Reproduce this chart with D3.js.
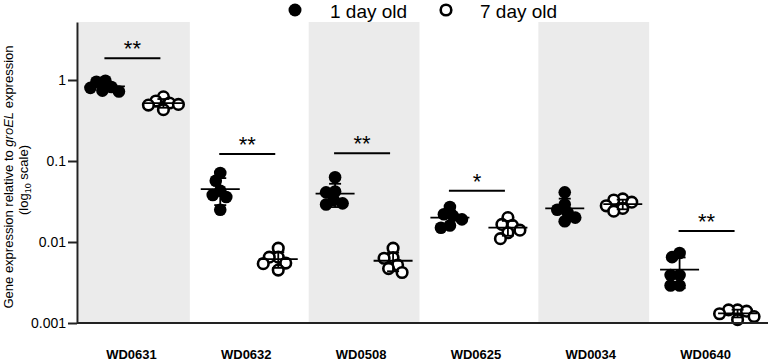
<!DOCTYPE html>
<html>
<head>
<meta charset="utf-8">
<script src="https://cdn.jsdelivr.net/npm/d3@7"></script>
<style>
  html, body { margin: 0; padding: 0; background: #fff; }
  svg { display: block; font-family: "Liberation Sans", Arial, sans-serif; }
</style>
</head>
<body>
<svg id="chart" width="768" height="363"></svg>
<script>
// ---------- data ----------
const categories = ["WD0631", "WD0632", "WD0508", "WD0625", "WD0034", "WD0640"];
const seriesNames = ["1 day old", "7 day old"];
const day1Values = [
  [0.98, 0.95, 0.82, 0.80, 0.74, 0.72],
  [0.071, 0.057, 0.043, 0.038, 0.036, 0.025],
  [0.063, 0.042, 0.041, 0.033, 0.030, 0.029],
  [0.027, 0.022, 0.021, 0.019, 0.016, 0.015],
  [0.041, 0.029, 0.025, 0.023, 0.020, 0.018],
  [0.0073, 0.0065, 0.0039, 0.0039, 0.0029, 0.0029]
];
const day7Values = [
  [0.62, 0.55, 0.52, 0.50, 0.49, 0.43],
  [0.0084, 0.0065, 0.0065, 0.0055, 0.0054, 0.0045],
  [0.0084, 0.0064, 0.0063, 0.0052, 0.0047, 0.0042],
  [0.020, 0.0165, 0.016, 0.014, 0.013, 0.011],
  [0.034, 0.033, 0.031, 0.028, 0.026, 0.024],
  [0.00145, 0.00145, 0.0014, 0.0013, 0.0012, 0.0011]
];
const sigLabels = ["**", "**", "**", "*", "", "**"];
const sigValues = [1.85, 0.122, 0.125, 0.043, null, 0.0137];
const yTickValues = [1, 0.1, 0.01, 0.001];
const yTickLabels = ["1", "0.1", "0.01", "0.001"];

// ---------- layout ----------
const W = 768, H = 363;
const mLeft = 77, mRight = 766, mTop = 22, mBottom = 323;
const svg = d3.select("#chart");

const x = d3.scaleBand().domain(categories).range([mLeft, mRight]).padding(0);
const step = x.step();
const cx = c => x(c) + step / 2;
const xs = d3.scalePoint().domain(seriesNames).range([-29, 29]);
const y = d3.scaleLog().domain([0.001, Math.pow(10, 0.716)]).range([mBottom, mTop]);

// shaded bands
const bandW = step * 0.965;
svg.append("g").selectAll("rect")
  .data(categories.filter((d, i) => i % 2 === 0))
  .join("rect")
  .attr("x", d => Math.max(mLeft, cx(d) - bandW / 2))
  .attr("width", d => cx(d) + bandW / 2 - Math.max(mLeft, cx(d) - bandW / 2))
  .attr("y", mTop)
  .attr("height", mBottom - mTop)
  .attr("fill", "#ebebeb");

// beeswarm offsets
function swarm(vals, minD) {
  const pts = vals.map(v => ({ v, py: y(v) })).sort((a, b) => a.py - b.py);
  const placed = [];
  pts.forEach(p => {
    const cands = [0];
    for (let k = 1; k < 20; k++) { cands.push(-k * 1.5); cands.push(k * 1.5); }
    let chosen = 0;
    for (const c of cands) {
      let ok = true;
      for (const q of placed) {
        const dx = c - q.dx, dy = p.py - q.py;
        if (Math.sqrt(dx * dx + dy * dy) < minD) { ok = false; break; }
      }
      if (ok) { chosen = c; break; }
    }
    p.dx = chosen;
    placed.push(p);
  });
  return pts;
}

const groups = [];
categories.forEach((c, i) => {
  [day1Values[i], day7Values[i]].forEach((vals, s) => {
    const mean = d3.mean(vals), sd = d3.deviation(vals);
    groups.push({ c, s, vals, mean, sd, x0: cx(c) + xs(seriesNames[s]) });
  });
});

// points
const gPts = svg.append("g");
groups.forEach(g => {
  const pts = swarm(g.vals, 8.5);
  gPts.append("g").selectAll("circle").data(pts).join("circle")
    .attr("cx", p => g.x0 + p.dx)
    .attr("cy", p => p.py)
    .attr("r", g.s === 0 ? 6.3 : 5.3)
    .attr("fill", g.s === 0 ? "#000" : "#fff")
    .attr("stroke", "#000")
    .attr("stroke-width", g.s === 0 ? 0 : 2.6);
});

// mean and SD
const gErr = svg.append("g").attr("stroke", "#000").attr("stroke-width", 1.8);
groups.forEach(g => {
  const ym = y(g.mean), yt = y(g.mean + g.sd), yb = y(Math.max(g.mean - g.sd, 1e-4));
  gErr.append("line").attr("x1", g.x0 - 19.5).attr("x2", g.x0 + 19.5).attr("y1", ym).attr("y2", ym);
  gErr.append("line").attr("x1", g.x0).attr("x2", g.x0).attr("y1", yt).attr("y2", yb);
  gErr.append("line").attr("x1", g.x0 - 6).attr("x2", g.x0 + 6).attr("y1", yt).attr("y2", yt);
  gErr.append("line").attr("x1", g.x0 - 6).attr("x2", g.x0 + 6).attr("y1", yb).attr("y2", yb);
});

// significance
const gSig = svg.append("g");
categories.forEach((c, i) => {
  if (sigValues[i] == null) return;
  const yy = y(sigValues[i]);
  const a = cx(c) + xs(seriesNames[0]) - 1, b = cx(c) + xs(seriesNames[1]) - 3;
  gSig.append("line").attr("x1", a).attr("x2", b).attr("y1", yy).attr("y2", yy)
    .attr("stroke", "#000").attr("stroke-width", 2);
  gSig.append("text").attr("x", (a + b) / 2).attr("y", yy - 2)
    .attr("text-anchor", "middle").attr("font-size", 22).attr("fill", "#000")
    .text(sigLabels[i]);
});

// y axis
const yAxis = d3.axisLeft(y).tickValues(yTickValues)
  .tickFormat((d, i) => yTickLabels[i]).tickSize(9).tickSizeOuter(0);
const gy = svg.append("g").attr("transform", `translate(${mLeft},0)`).call(yAxis);
gy.select(".domain").attr("stroke", "#222").attr("stroke-width", 2);
gy.selectAll(".tick line").attr("stroke", "#222").attr("stroke-width", 2);
gy.selectAll(".tick text").attr("font-size", 14).attr("fill", "#000")
  .attr("font-family", "Liberation Sans, Arial, sans-serif").attr("x", -11);

// x axis
const xAxis = d3.axisBottom(x).tickSize(0).tickSizeOuter(0);
const gx = svg.append("g").attr("transform", `translate(0,${mBottom})`).call(xAxis);
gx.select(".domain").attr("stroke", "#222").attr("stroke-width", 2)
  .attr("d", `M${mLeft},0H${W}`);
gx.selectAll(".tick text").attr("font-size", 13).attr("font-weight", "bold")
  .attr("fill", "#000").attr("font-family", "Liberation Sans, Arial, sans-serif")
  .attr("y", 27).attr("dx", -3);

// y title
const t = svg.append("text").attr("transform", "translate(13,177) rotate(-90)")
  .attr("text-anchor", "middle").attr("font-size", 13).attr("fill", "#000");
t.append("tspan").text("Gene expression relative to ");
t.append("tspan").attr("font-style", "italic").text("groEL");
t.append("tspan").text(" expression");
const t2 = svg.append("text").attr("transform", "translate(28,180) rotate(-90)")
  .attr("text-anchor", "middle").attr("font-size", 13).attr("fill", "#000");
t2.append("tspan").text("(log");
t2.append("tspan").attr("font-size", 9).attr("dy", 3).text("10");
t2.append("tspan").attr("dy", -3).text(" scale)");

// legend
const lg = svg.append("g");
lg.append("circle").attr("cx", 295).attr("cy", 10).attr("r", 6.5).attr("fill", "#000");
lg.append("text").attr("x", 330).attr("y", 17.5).attr("font-size", 19).text(seriesNames[0]);
lg.append("circle").attr("cx", 446).attr("cy", 10).attr("r", 5.3)
  .attr("fill", "#fff").attr("stroke", "#000").attr("stroke-width", 2.6);
lg.append("text").attr("x", 480).attr("y", 17.5).attr("font-size", 19).text(seriesNames[1]);
</script>
</body>
</html>
